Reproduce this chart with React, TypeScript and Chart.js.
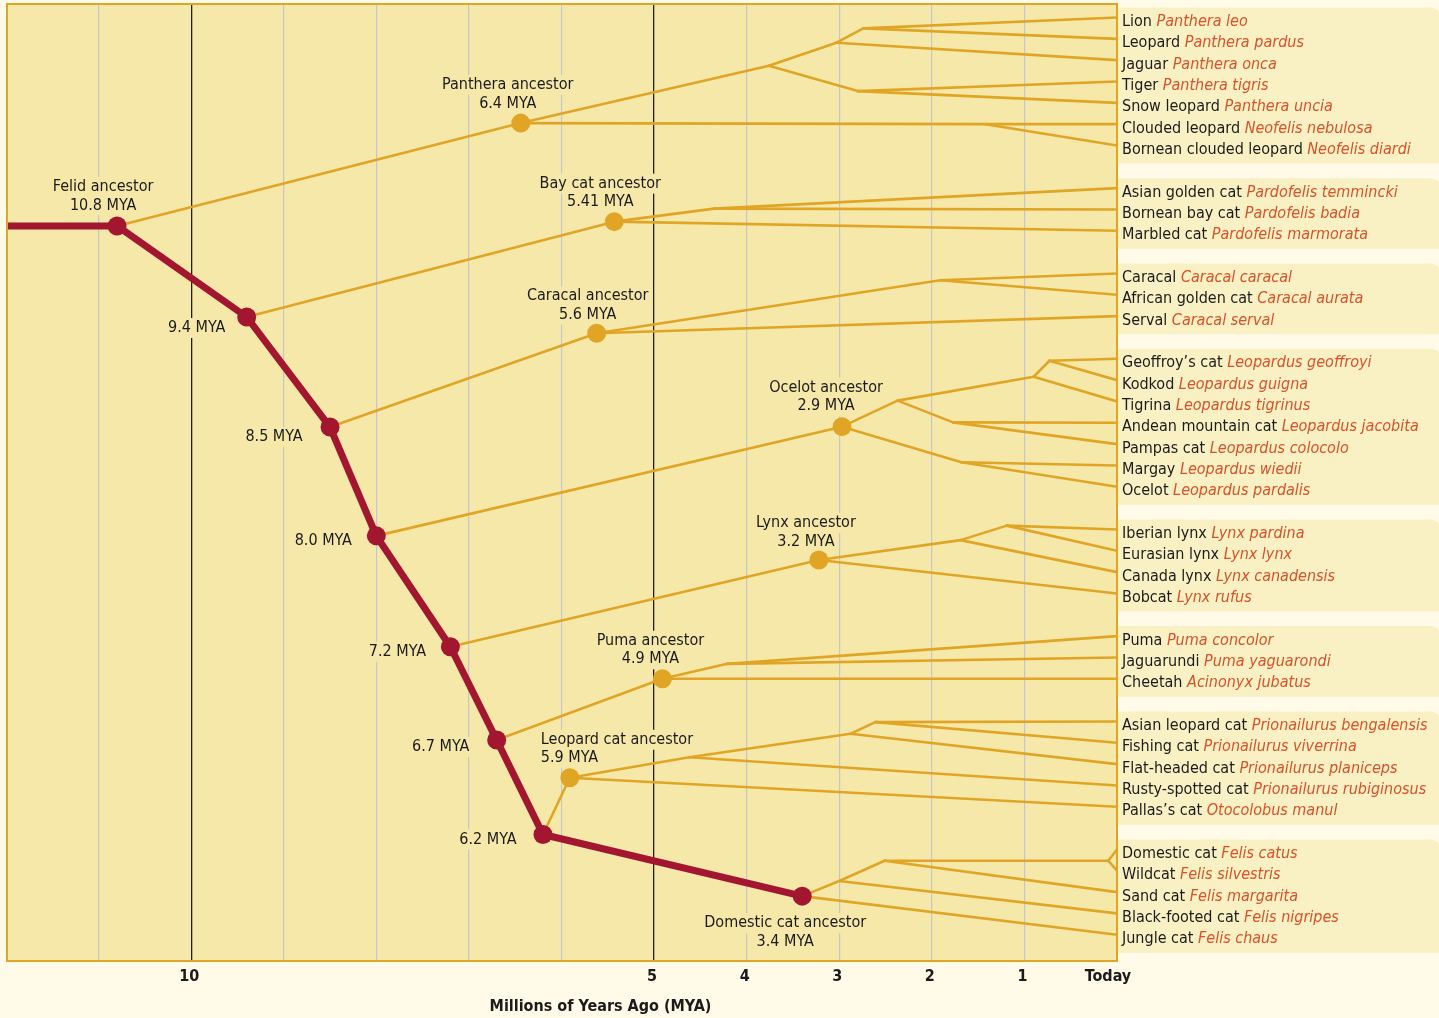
import { useEffect, useRef } from "react";
import { Chart, registerables } from "chart.js";
Chart.register(...registerables);

// ---------- DATA ----------
const commonNames = [
  "Lion", "Leopard", "Jaguar", "Tiger", "Snow leopard", "Clouded leopard", "Bornean clouded leopard",
  "Asian golden cat", "Bornean bay cat", "Marbled cat",
  "Caracal", "African golden cat", "Serval",
  "Geoffroy’s cat", "Kodkod", "Tigrina", "Andean mountain cat", "Pampas cat", "Margay", "Ocelot",
  "Iberian lynx", "Eurasian lynx", "Canada lynx", "Bobcat",
  "Puma", "Jaguarundi", "Cheetah",
  "Asian leopard cat", "Fishing cat", "Flat-headed cat", "Rusty-spotted cat", "Pallas’s cat",
  "Domestic cat", "Wildcat", "Sand cat", "Black-footed cat", "Jungle cat",
];
const latinNames = [
  "Panthera leo", "Panthera pardus", "Panthera onca", "Panthera tigris", "Panthera uncia", "Neofelis nebulosa", "Neofelis diardi",
  "Pardofelis temmincki", "Pardofelis badia", "Pardofelis marmorata",
  "Caracal caracal", "Caracal aurata", "Caracal serval",
  "Leopardus geoffroyi", "Leopardus guigna", "Leopardus tigrinus", "Leopardus jacobita", "Leopardus colocolo", "Leopardus wiedii", "Leopardus pardalis",
  "Lynx pardina", "Lynx lynx", "Lynx canadensis", "Lynx rufus",
  "Puma concolor", "Puma yaguarondi", "Acinonyx jubatus",
  "Prionailurus bengalensis", "Prionailurus viverrina", "Prionailurus planiceps", "Prionailurus rubiginosus", "Otocolobus manul",
  "Felis catus", "Felis silvestris", "Felis margarita", "Felis nigripes", "Felis chaus",
];
const speciesRows = [0, 1, 2, 3, 4, 5, 6, 8, 9, 10, 12, 13, 14, 16, 17, 18, 19, 20, 21, 22, 24, 25, 26, 27, 29, 30, 31, 33, 34, 35, 36, 37, 39, 40, 41, 42, 43];

const groupFirstRow = [0, 8, 12, 16, 24, 29, 33, 39];
const groupLastRow = [6, 10, 14, 22, 27, 31, 37, 43];

// main (domestic-cat) lineage
const mainIds = ["start", "felid", "n94", "n85", "n80", "n72", "n67", "n62", "domestic"];
const mainMya = [12, 10.8, 9.4, 8.5, 8.0, 7.2, 6.7, 6.2, 3.4];
const mainRows = [9.77, 9.77, 14.04, 19.2, 24.3, 29.5, 33.87, 38.3, 41.19];

// group ancestors (gold dots)
const ancestorIds = ["panthera", "baycat", "caracal", "ocelot", "lynx", "puma", "leopardcat"];
const ancestorMya = [6.44, 5.43, 5.62, 2.97, 3.22, 4.91, 5.91];
const ancestorRows = [4.95, 9.57, 14.8, 19.18, 25.43, 31.0, 35.64];

// internal split points
const splitIds = ["pA", "pB", "pE", "pD", "pC", "bF", "cG", "oH", "oI", "oJ", "oK", "oL", "lM", "lN", "puO", "lcP", "lcQ", "lcR", "dS", "dT", "dU"];
const splitMya = [3.76, 3.03, 2.74, 2.8, 1.42, 4.35, 1.91, 2.37, 0.9, 0.73, 1.77, 1.68, 1.69, 1.19, 4.21, 4.62, 2.88, 2.61, 3.0, 2.51, 0.094];
const splitRows = [2.26, 1.18, 0.51, 3.45, 5.0, 8.96, 12.32, 17.96, 16.84, 16.09, 18.98, 20.85, 24.5, 23.82, 30.3, 34.68, 33.58, 33.03, 40.48, 39.53, 39.53];

// branches: [parent, child]
const branches: [string, string][] = [
  ["felid", "panthera"], ["n94", "baycat"], ["n85", "caracal"], ["n80", "ocelot"], ["n72", "lynx"], ["n67", "puma"], ["n62", "leopardcat"],
  ["panthera", "pA"], ["panthera", "pC"], ["pA", "pB"], ["pA", "pD"], ["pB", "pE"], ["pB", "Jaguar"],
  ["pE", "Lion"], ["pE", "Leopard"], ["pD", "Tiger"], ["pD", "Snow leopard"],
  ["pC", "Clouded leopard"], ["pC", "Bornean clouded leopard"],
  ["baycat", "bF"], ["baycat", "Marbled cat"], ["bF", "Asian golden cat"], ["bF", "Bornean bay cat"],
  ["caracal", "cG"], ["caracal", "Serval"], ["cG", "Caracal"], ["cG", "African golden cat"],
  ["ocelot", "oH"], ["ocelot", "oL"], ["oH", "oI"], ["oH", "oK"], ["oI", "oJ"], ["oI", "Tigrina"],
  ["oJ", "Geoffroy’s cat"], ["oJ", "Kodkod"], ["oK", "Andean mountain cat"], ["oK", "Pampas cat"],
  ["oL", "Margay"], ["oL", "Ocelot"],
  ["lynx", "lM"], ["lynx", "Bobcat"], ["lM", "lN"], ["lM", "Canada lynx"], ["lN", "Iberian lynx"], ["lN", "Eurasian lynx"],
  ["puma", "puO"], ["puma", "Cheetah"], ["puO", "Puma"], ["puO", "Jaguarundi"],
  ["leopardcat", "lcP"], ["leopardcat", "Pallas’s cat"], ["lcP", "lcQ"], ["lcP", "Rusty-spotted cat"],
  ["lcQ", "lcR"], ["lcQ", "Flat-headed cat"], ["lcR", "Asian leopard cat"], ["lcR", "Fishing cat"],
  ["domestic", "dS"], ["domestic", "Jungle cat"], ["dS", "dT"], ["dS", "Black-footed cat"],
  ["dT", "dU"], ["dT", "Sand cat"], ["dU", "Domestic cat"], ["dU", "Wildcat"],
];

// node annotations
const labelNodes = ["felid", "panthera", "baycat", "caracal", "ocelot", "lynx", "puma", "leopardcat", "domestic", "n94", "n85", "n80", "n72", "n67", "n62"];
const labelTexts = [
  ["Felid ancestor", "10.8 MYA"], ["Panthera ancestor", "6.4 MYA"], ["Bay cat ancestor", "5.41 MYA"],
  ["Caracal ancestor", "5.6 MYA"], ["Ocelot ancestor", "2.9 MYA"], ["Lynx ancestor", "3.2 MYA"],
  ["Puma ancestor", "4.9 MYA"], ["Leopard cat ancestor", "5.9 MYA"], ["Domestic cat ancestor", "3.4 MYA"],
  ["9.4 MYA"], ["8.5 MYA"], ["8.0 MYA"], ["7.2 MYA"], ["6.7 MYA"], ["6.2 MYA"],
];

const gridValues = [0, 1, 2, 3, 4, 5, 6, 7, 8, 9, 10, 11, 12];
const tickValues = [10, 5, 4, 3, 2, 1, 0];
const tickLabels = ["10", "5", "4", "3", "2", "1", "Today"];
const axisTitle = "Millions of Years Ago (MYA)";

// ---------- STYLE ----------
const FONT = '"Liberation Sans Narrow", "DejaVu Sans Condensed", "Arial Narrow", sans-serif';
const FS = 16;
const CREAM = "#fffbe8";
const PLOT_BG = "#f6e8a9";
const BOX_BG = "#f9f0c4";
const GOLD = "#e1a526";
const RED = "#a3162f";
const LATIN = "#d6532b";
const TEXT = "#1b1b1b";

// label layout: [dx, dy of first line, align]
const labelLayout: [number, number, CanvasTextAlign][] = [
  [-14, -39, "center"], [-13, -38, "center"], [-14, -38, "center"], [-9, -37, "center"],
  [-16, -39, "center"], [-13, -37, "center"], [-12, -38, "center"], [-29, -38, "left"], [-17, 27, "center"],
  [-50, 11, "center"], [-56, 10, "center"], [-53, 5, "center"], [-53, 5, "center"], [-56, 7, "center"], [-55, 5, "center"],
];
const LINE_GAP = 18.5;

export default function App() {
  const ref = useRef<HTMLCanvasElement>(null);

  useEffect(() => {
    document.body.style.margin = "0";
    document.body.style.background = CREAM;

    const pos: Record<string, [number, number]> = {};
    mainIds.forEach((id, i) => (pos[id] = [mainMya[i], mainRows[i]]));
    ancestorIds.forEach((id, i) => (pos[id] = [ancestorMya[i], ancestorRows[i]]));
    splitIds.forEach((id, i) => (pos[id] = [splitMya[i], splitRows[i]]));
    commonNames.forEach((id, i) => (pos[id] = [0, speciesRows[i]]));

    const branchSets = branches.map(([a, b]) => ({
      data: [
        { x: pos[a][0], y: pos[a][1] },
        { x: pos[b][0], y: pos[b][1] },
      ],
      showLine: true,
      borderColor: GOLD,
      borderWidth: 2.6,
      borderCapStyle: "round" as const,
      pointRadius: 0,
      order: 3,
    }));

    const mainLine = {
      data: mainIds.map((id) => ({ x: pos[id][0], y: pos[id][1] })),
      showLine: true,
      borderColor: RED,
      borderWidth: 7,
      borderJoinStyle: "round" as const,
      pointRadius: 0,
      order: 2,
    };
    const goldDots = {
      data: ancestorIds.map((id) => ({ x: pos[id][0], y: pos[id][1] })),
      pointRadius: 9.5,
      backgroundColor: GOLD,
      borderWidth: 0,
      order: 1,
    };
    const redDots = {
      data: mainIds.slice(1).map((id) => ({ x: pos[id][0], y: pos[id][1] })),
      pointRadius: 9.5,
      backgroundColor: RED,
      borderWidth: 0,
      order: 0,
    };

    const labelPlugin = {
      id: "treeDecor",
      beforeDraw(chart: any) {
        const { ctx, chartArea: ca, scales } = chart;
        const ys = scales.y;
        ctx.save();
        ctx.fillStyle = CREAM;
        ctx.fillRect(0, 0, chart.width, chart.height);
        // species group boxes
        ctx.fillStyle = BOX_BG;
        groupFirstRow.forEach((r0, i) => {
          const top = ys.getPixelForValue(r0) - 10;
          const bot = ys.getPixelForValue(groupLastRow[i]) + 18;
          const l = ca.right, r = chart.width + 2, rad = 12;
          ctx.beginPath();
          ctx.moveTo(l, top);
          ctx.lineTo(r - rad, top);
          ctx.quadraticCurveTo(r, top, r, top + rad);
          ctx.lineTo(r, bot);
          ctx.lineTo(l, bot);
          ctx.closePath();
          ctx.fill();
        });
        ctx.fillStyle = PLOT_BG;
        ctx.fillRect(ca.left, ca.top, ca.right - ca.left, ca.bottom - ca.top);
        ctx.restore();
      },
      beforeDatasetsDraw(chart: any) {
        const { ctx, scales } = chart;
        ctx.save();
        ctx.font = `${FS}px ${FONT}`;
        ctx.fillStyle = PLOT_BG;
        labelNodes.forEach((id, i) => {
          const px = scales.x.getPixelForValue(pos[id][0]);
          const py = scales.y.getPixelForValue(pos[id][1]);
          const [dx, dy, align] = labelLayout[i];
          labelTexts[i].forEach((t, k) => {
            const w = ctx.measureText(t).width;
            const cx = px + dx;
            const cy = py + dy + k * LINE_GAP;
            const x0 = align === "center" ? cx - w / 2 : cx;
            ctx.fillRect(x0 - 3, cy - 10, w + 6, 20);
          });
        });
        ctx.restore();
      },
      afterDatasetsDraw(chart: any) {
        const { ctx, chartArea: ca, scales } = chart;
        ctx.save();
        // node labels
        ctx.font = `${FS}px ${FONT}`;
        ctx.fillStyle = TEXT;
        ctx.textBaseline = "middle";
        labelNodes.forEach((id, i) => {
          const px = scales.x.getPixelForValue(pos[id][0]);
          const py = scales.y.getPixelForValue(pos[id][1]);
          const [dx, dy, align] = labelLayout[i];
          ctx.textAlign = align;
          labelTexts[i].forEach((t, k) => {
            ctx.fillText(t, px + dx, py + dy + k * LINE_GAP);
          });
        });
        // plot border
        ctx.strokeStyle = GOLD;
        ctx.lineWidth = 2;
        ctx.strokeRect(ca.left + 1, ca.top, ca.right - ca.left - 1, ca.bottom - ca.top);
        // species labels
        ctx.textAlign = "left";
        commonNames.forEach((name, i) => {
          const y = scales.y.getPixelForValue(speciesRows[i]) + 4.5;
          const x = ca.right + 5;
          ctx.font = `${FS}px ${FONT}`;
          ctx.fillStyle = TEXT;
          ctx.fillText(name, x, y);
          const w = ctx.measureText(name + " ").width;
          ctx.font = `italic ${FS}px ${FONT}`;
          ctx.fillStyle = LATIN;
          ctx.fillText(latinNames[i], x + w, y);
        });
        // tick labels
        ctx.font = `bold ${FS}px ${FONT}`;
        ctx.fillStyle = TEXT;
        ctx.textAlign = "center";
        tickValues.forEach((v, i) => {
          const x = scales.x.getPixelForValue(v) + (v === 0 ? -9 : -2);
          ctx.fillText(tickLabels[i], x, ca.bottom + 16);
        });
        ctx.fillText(axisTitle, (ca.left + ca.right) / 2 + 39, ca.bottom + 46);
        ctx.restore();
      },
    };

    const chart = new Chart(ref.current as HTMLCanvasElement, {
      type: "scatter",
      data: { datasets: [redDots, goldDots, mainLine, ...branchSets] as any },
      options: {
        responsive: false,
        animation: false,
        events: [],
        layout: { autoPadding: false, padding: { left: 6, top: 4, right: 322, bottom: 57 } },
        plugins: { legend: { display: false }, tooltip: { enabled: false } },
        scales: {
          x: {
            type: "linear",
            min: 0,
            max: 12,
            reverse: true,
            afterBuildTicks: (s: any) => {
              s.ticks = gridValues.map((v) => ({ value: v }));
            },
            ticks: { display: false },
            border: { display: false },
            grid: {
              drawTicks: false,
              color: (c: any) => {
                const v = c.tick?.value;
                if (v === 0 || v === 12) return "rgba(0,0,0,0)";
                if (v === 10 || v === 5) return "#1e1e1e";
                return "#c6c6c8";
              },
              lineWidth: (c: any) => (c.tick?.value === 10 || c.tick?.value === 5 ? 1.3 : 1.2),
            },
          },
          y: { type: "linear", min: -0.633, max: 44.23, reverse: true, display: false },
        },
      },
      plugins: [labelPlugin],
    });
    return () => chart.destroy();
  }, []);

  return <canvas ref={ref} width={1439} height={1018} style={{ display: "block" }} />;
}
